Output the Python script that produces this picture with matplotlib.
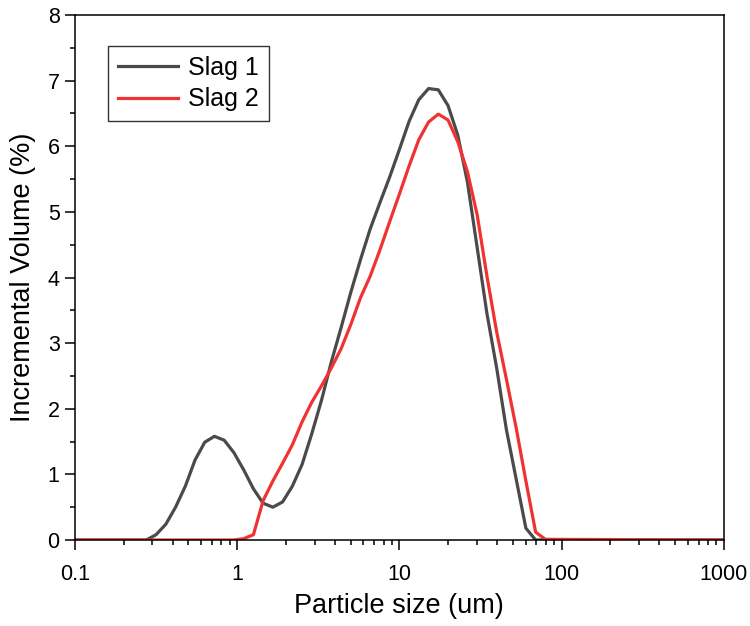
import matplotlib.pyplot as plt
from matplotlib.ticker import FuncFormatter, MultipleLocator, LogLocator
import numpy as np

# particle size bins (um)
size = [0.1, 0.275, 0.316, 0.363, 0.417, 0.479, 0.550, 0.631, 0.724, 0.832, 0.955,
        1.096, 1.259, 1.445, 1.660, 1.905, 2.188, 2.512, 2.884, 3.311, 3.802,
        4.365, 5.012, 5.754, 6.607, 7.586, 8.710, 10.0, 11.48, 13.18, 15.14,
        17.38, 19.95, 22.91, 26.30, 30.20, 34.67, 39.81, 45.71, 52.48, 60.26,
        69.18, 79.43, 1000]

slag1 = [0, 0, 0.08, 0.24, 0.50, 0.82, 1.22, 1.49, 1.58, 1.52, 1.33,
         1.07, 0.78, 0.56, 0.50, 0.58, 0.82, 1.15, 1.62, 2.13, 2.71,
         3.23, 3.77, 4.27, 4.74, 5.14, 5.53, 5.95, 6.38, 6.71, 6.88,
         6.86, 6.62, 6.17, 5.45, 4.45, 3.45, 2.62, 1.68, 0.93, 0.18,
         0, 0, 0]

slag2 = [0, 0, 0, 0, 0, 0, 0, 0, 0, 0, 0,
         0.02, 0.08, 0.60, 0.90, 1.17, 1.45, 1.80, 2.10, 2.35, 2.62,
         2.91, 3.28, 3.69, 4.02, 4.42, 4.85, 5.27, 5.70, 6.10, 6.37,
         6.49, 6.40, 6.07, 5.61, 4.95, 4.02, 3.17, 2.45, 1.71, 0.90,
         0.12, 0.01, 0]

plt.rcParams['font.family'] = ['Liberation Sans', 'DejaVu Sans']

fig = plt.figure(figsize=(7.5, 6.26), dpi=100)
ax = fig.add_axes([0.1, 0.1374, 0.865, 0.8386])

ax.plot(size, slag1, color='#4a4a4a', linewidth=2.3, label='Slag 1')
ax.plot(size, slag2, color='#f03232', linewidth=2.3, label='Slag 2')

ax.set_xscale('log')
ax.set_xlim(0.1, 1000)
ax.set_ylim(0, 8)
ax.xaxis.set_major_formatter(FuncFormatter(lambda v, p: '{:g}'.format(v)))
ax.xaxis.set_minor_locator(LogLocator(base=10, subs=np.arange(2, 10)))
ax.xaxis.set_minor_formatter(FuncFormatter(lambda v, p: ''))
ax.yaxis.set_major_locator(MultipleLocator(1))
ax.yaxis.set_minor_locator(MultipleLocator(0.5))

ax.tick_params(which='both', direction='out', top=False, right=False,
               labelsize=15.5, width=1.1)
ax.tick_params(which='major', length=7, pad=4)
ax.tick_params(axis='x', which='major', pad=10)
ax.tick_params(which='minor', length=3.5)
for s in ax.spines.values():
    s.set_linewidth(1.1)

ax.set_xlabel('Particle size (um)', fontsize=19.5, labelpad=6)
ax.set_ylabel('Incremental Volume (%)', fontsize=19.5, labelpad=8)

leg = ax.legend(loc='upper left', bbox_to_anchor=(0.051, 0.941), fontsize=18,
                fancybox=False, edgecolor='#333333', framealpha=1,
                handlelength=2.4, handletextpad=0.4, borderpad=0.4,
                labelspacing=0.3, borderaxespad=0)
leg.get_frame().set_linewidth(1.0)

fig.savefig('out.png', dpi=100)
